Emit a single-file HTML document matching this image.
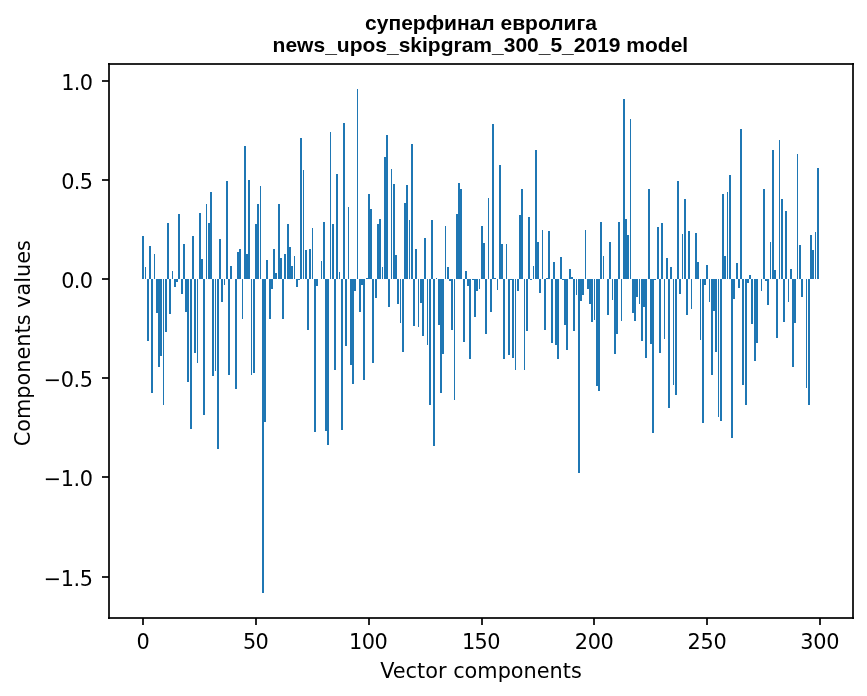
<!DOCTYPE html>
<html lang="ru"><head><meta charset="utf-8"><title>суперфинал евролига</title>
<style>html,body{margin:0;padding:0;background:#fff}svg{display:block}</style></head>
<body><svg width="867" height="696" viewBox="0 0 867 696">
<rect width="867" height="696" fill="#fff"/>
<path d="M142 236h2v43h-2zM145 267h1v12h-1zM147 279h2v62h-2zM149 246h2v33h-2zM151 279h2v114h-2zM154 254h1v25h-1zM156 279h2v34h-2zM158 279h2v88h-2zM160 279h2v77h-2zM163 279h1v126h-1zM165 279h2v53h-2zM167 223h2v56h-2zM169 279h2v35h-2zM172 271h1v8h-1zM174 279h2v8h-2zM176 279h2v3h-2zM178 214h2v65h-2zM181 279h2v15h-2zM183 244h2v35h-2zM185 279h2v33h-2zM187 279h2v103h-2zM190 279h2v150h-2zM192 236h2v43h-2zM194 279h2v74h-2zM197 279h1v84h-1zM199 213h2v66h-2zM201 259h2v20h-2zM203 279h2v136h-2zM206 204h1v75h-1zM208 223h2v56h-2zM210 192h2v87h-2zM212 279h2v97h-2zM215 279h1v92h-1zM217 279h2v170h-2zM219 239h2v40h-2zM221 279h2v23h-2zM224 279h1v6h-1zM226 181h2v98h-2zM228 279h2v96h-2zM230 266h2v13h-2zM235 279h2v110h-2zM237 252h2v27h-2zM239 249h2v30h-2zM242 279h1v40h-1zM244 146h2v133h-2zM246 254h2v25h-2zM248 180h2v99h-2zM251 279h1v96h-1zM253 279h2v94h-2zM255 224h2v55h-2zM257 204h2v75h-2zM260 186h1v93h-1zM262 279h2v314h-2zM264 279h2v143h-2zM266 260h2v19h-2zM269 279h2v40h-2zM271 279h2v10h-2zM273 249h2v30h-2zM275 273h2v6h-2zM278 204h2v75h-2zM280 258h2v21h-2zM282 279h2v40h-2zM284 254h2v25h-2zM287 224h2v55h-2zM289 247h2v32h-2zM291 266h2v13h-2zM294 256h1v23h-1zM296 279h2v8h-2zM298 279h2v1h-2zM300 138h2v141h-2zM303 170h1v109h-1zM305 250h2v29h-2zM307 279h2v51h-2zM309 249h2v30h-2zM312 228h1v51h-1zM314 279h2v153h-2zM316 279h2v7h-2zM321 261h1v18h-1zM323 222h2v57h-2zM325 279h2v152h-2zM327 279h2v166h-2zM330 132h1v147h-1zM332 224h2v55h-2zM334 279h2v91h-2zM336 174h2v105h-2zM339 272h1v7h-1zM341 279h2v151h-2zM343 123h2v156h-2zM345 279h2v67h-2zM348 207h1v72h-1zM350 279h2v86h-2zM352 279h2v105h-2zM354 279h2v12h-2zM357 89h1v190h-1zM359 279h2v33h-2zM361 279h2v6h-2zM363 279h2v101h-2zM366 278h2v1h-2zM368 194h2v85h-2zM370 209h2v70h-2zM372 279h2v84h-2zM375 279h2v19h-2zM377 224h2v55h-2zM379 219h2v60h-2zM382 267h1v12h-1zM384 157h2v122h-2zM386 135h2v144h-2zM388 279h2v28h-2zM391 169h1v110h-1zM393 184h2v95h-2zM395 255h2v24h-2zM397 279h2v25h-2zM400 279h1v44h-1zM402 279h2v73h-2zM404 203h2v76h-2zM406 185h2v94h-2zM409 220h1v59h-1zM411 144h2v135h-2zM413 279h2v47h-2zM415 249h2v30h-2zM418 279h1v48h-1zM420 279h2v24h-2zM422 279h2v57h-2zM424 238h2v41h-2zM427 279h1v66h-1zM429 279h2v126h-2zM431 220h2v59h-2zM433 279h2v167h-2zM436 278h1v1h-1zM438 279h2v46h-2zM440 279h2v114h-2zM442 279h2v75h-2zM445 226h1v53h-1zM447 267h2v12h-2zM449 279h2v2h-2zM451 279h2v51h-2zM454 279h1v121h-1zM456 214h2v65h-2zM458 183h2v96h-2zM460 189h2v90h-2zM463 279h2v63h-2zM465 271h2v8h-2zM467 279h2v7h-2zM469 279h2v80h-2zM472 279h2v1h-2zM474 279h2v38h-2zM476 279h2v12h-2zM479 279h1v10h-1zM481 226h2v53h-2zM483 243h2v36h-2zM485 279h2v55h-2zM488 198h1v81h-1zM490 279h2v33h-2zM492 124h2v155h-2zM494 278h2v1h-2zM497 279h1v11h-1zM499 165h2v114h-2zM501 244h2v35h-2zM503 279h2v80h-2zM506 244h1v35h-1zM508 279h2v76h-2zM510 279h2v1h-2zM512 279h2v79h-2zM515 279h1v91h-1zM517 279h2v12h-2zM519 215h2v64h-2zM521 189h2v90h-2zM524 279h1v91h-1zM526 279h2v52h-2zM528 217h2v62h-2zM530 279h2v1h-2zM533 266h1v13h-1zM535 150h2v129h-2zM537 242h2v37h-2zM539 279h2v14h-2zM542 230h1v49h-1zM544 279h2v51h-2zM546 278h2v1h-2zM548 231h2v48h-2zM551 279h2v64h-2zM553 262h2v17h-2zM555 279h2v66h-2zM557 279h2v80h-2zM560 257h2v22h-2zM562 279h2v1h-2zM564 279h2v46h-2zM566 279h2v71h-2zM569 269h2v10h-2zM571 277h2v2h-2zM573 279h2v52h-2zM576 279h1v16h-1zM578 279h2v194h-2zM580 279h2v22h-2zM582 279h2v16h-2zM585 230h1v49h-1zM587 279h2v10h-2zM589 279h2v25h-2zM591 279h2v43h-2zM594 279h1v41h-1zM596 279h2v107h-2zM598 279h2v112h-2zM600 222h2v57h-2zM603 256h1v23h-1zM607 279h2v36h-2zM609 242h2v37h-2zM612 279h1v21h-1zM614 279h2v75h-2zM616 279h2v55h-2zM618 222h2v57h-2zM621 279h1v42h-1zM623 99h2v180h-2zM625 219h2v60h-2zM627 235h2v44h-2zM630 119h1v160h-1zM632 279h2v34h-2zM634 279h2v42h-2zM636 279h2v18h-2zM639 279h1v25h-1zM641 279h2v62h-2zM643 279h2v28h-2zM645 279h2v79h-2zM648 189h2v90h-2zM650 279h2v65h-2zM652 279h2v154h-2zM654 279h2v1h-2zM657 227h2v52h-2zM659 279h2v74h-2zM661 223h2v56h-2zM664 279h1v60h-1zM666 258h2v21h-2zM668 279h2v129h-2zM670 267h2v12h-2zM673 279h1v106h-1zM675 279h2v116h-2zM677 181h2v98h-2zM679 279h2v15h-2zM682 234h1v45h-1zM684 199h2v80h-2zM686 279h2v36h-2zM688 231h2v48h-2zM691 279h1v30h-1zM695 233h2v46h-2zM697 262h2v17h-2zM700 279h1v61h-1zM702 279h2v144h-2zM704 279h2v6h-2zM706 265h2v14h-2zM709 279h1v23h-1zM711 279h2v96h-2zM713 279h2v32h-2zM715 279h2v73h-2zM718 279h1v138h-1zM720 279h2v142h-2zM722 194h2v85h-2zM724 256h2v23h-2zM727 192h1v87h-1zM729 175h2v104h-2zM731 279h2v159h-2zM733 279h2v20h-2zM736 263h2v16h-2zM738 279h2v9h-2zM740 129h2v150h-2zM742 279h2v106h-2zM745 279h2v126h-2zM747 279h2v4h-2zM749 275h2v4h-2zM751 279h2v45h-2zM754 279h2v82h-2zM756 279h2v64h-2zM761 279h1v12h-1zM763 189h2v90h-2zM765 279h2v2h-2zM767 279h2v26h-2zM770 242h1v37h-1zM772 150h2v129h-2zM774 270h2v9h-2zM776 279h2v59h-2zM779 140h1v139h-1zM781 199h2v80h-2zM783 279h2v43h-2zM785 211h2v68h-2zM788 279h1v23h-1zM790 269h2v10h-2zM792 279h2v88h-2zM794 279h2v44h-2zM797 154h1v125h-1zM799 245h2v34h-2zM801 279h2v18h-2zM806 279h1v109h-1zM808 279h2v126h-2zM810 235h2v44h-2zM812 250h2v29h-2zM815 232h1v47h-1zM817 168h2v111h-2z" fill="#1f77b4" shape-rendering="crispEdges"/>
<path d="M109 63V619" stroke="#000" stroke-opacity="0.85" stroke-width="2" fill="none" shape-rendering="crispEdges"/>
<path d="M853 63V619" stroke="#000" stroke-opacity="0.85" stroke-width="2" fill="none" shape-rendering="crispEdges"/>
<path d="M108 64H854" stroke="#000" stroke-opacity="0.85" stroke-width="2" fill="none" shape-rendering="crispEdges"/>
<path d="M108 618H854" stroke="#000" stroke-opacity="0.85" stroke-width="2" fill="none" shape-rendering="crispEdges"/>
<path d="M143 618v7M256 618v7M369 618v7M482 618v7M594 618v7M707 618v7M820 618v7M109 81h-7M109 180h-7M109 279h-7M109 378h-7M109 477h-7M109 577h-7" stroke="#000" stroke-opacity="0.85" stroke-width="2" fill="none" shape-rendering="crispEdges"/>
<g font-family="'DejaVu Sans', sans-serif" font-size="20.83px" fill="#000"><text x="136.43" y="649.40">0</text><text x="242.91" y="649.40" textLength="25.91" lengthAdjust="spacing">50</text><text x="349.09" y="649.40" textLength="38.56" lengthAdjust="spacing">100</text><text x="461.89" y="649.40" textLength="38.56" lengthAdjust="spacing">150</text><text x="574.69" y="649.40" textLength="39.16" lengthAdjust="spacing">200</text><text x="687.49" y="649.40" textLength="39.16" lengthAdjust="spacing">250</text><text x="800.30" y="649.40" textLength="39.16" lengthAdjust="spacing">300</text><text x="61.27" y="89.60" textLength="31.73" lengthAdjust="spacing">1.0</text><text x="61.27" y="188.60" textLength="31.73" lengthAdjust="spacing">0.5</text><text x="61.27" y="287.60" textLength="31.73" lengthAdjust="spacing">0.0</text><text x="43.82" y="386.60" textLength="49.18" lengthAdjust="spacing">−0.5</text><text x="43.82" y="485.60" textLength="49.18" lengthAdjust="spacing">−1.0</text><text x="43.82" y="585.60" textLength="49.18" lengthAdjust="spacing">−1.5</text><text x="481.00" y="677.9" text-anchor="middle">Vector components</text><text transform="translate(29.5 343.20) rotate(-90)" text-anchor="middle">Components values</text></g>
<g font-family="'Liberation Sans', sans-serif" font-weight="bold" font-size="21px" fill="#000" text-anchor="middle"><text x="481.00" y="29.6">суперфинал евролига</text><text x="480.40" y="52.1">news_upos_skipgram_300_5_2019 model</text></g>
</svg></body></html>
